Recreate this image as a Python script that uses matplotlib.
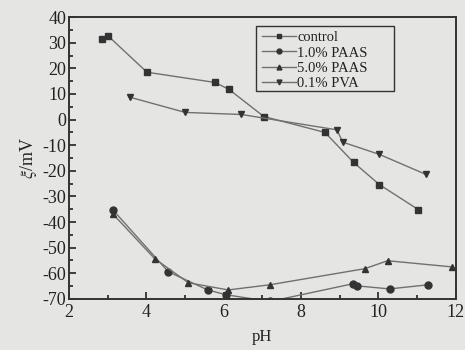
import numpy as np
import matplotlib
matplotlib.use('Agg')
import matplotlib.pyplot as plt
from matplotlib.patches import Rectangle
from matplotlib.ticker import MultipleLocator

plt.rcParams['font.family'] = ['Liberation Serif', 'DejaVu Serif']
plt.rcParams['mathtext.fontset'] = 'stix'
plt.rcParams['axes.unicode_minus'] = False

# data
ph_control = [2.87, 3.02, 4.02, 5.78, 6.14, 7.04, 8.62, 9.36, 10.03, 11.03]
zeta_control = [31.4, 32.6, 18.5, 14.5, 11.8, 1.2, -5.0, -16.7, -25.4, -35.1]

ph_paas1 = [3.13, 4.57, 5.59, 6.07, 7.2, 9.34, 9.44, 10.29, 11.28]
zeta_paas1 = [-35.1, -59.4, -66.5, -68.4, -71.0, -64.1, -64.9, -66.1, -64.5]

ph_paas5 = [3.13, 4.22, 5.09, 6.12, 7.19, 9.65, 10.24, 11.9]
zeta_paas5 = [-36.7, -54.3, -63.7, -66.5, -64.5, -58.2, -55.1, -57.5]

ph_pva = [3.59, 5.01, 6.46, 8.93, 9.08, 10.03, 11.23]
zeta_pva = [8.7, 2.8, 2.0, -4.0, -8.8, -13.6, -21.4]

bg = '#e5e5e3'
fig = plt.figure(figsize=(4.65, 3.5), dpi=100, facecolor=bg)
ax = fig.add_axes([0.148, 0.146, 0.832, 0.805], facecolor=bg)

lc = '#707070'
mc = '#333333'
kw = dict(color=lc, lw=1.0, markerfacecolor=mc, markeredgecolor=mc, markersize=5)
ax.plot(ph_control, zeta_control, marker='s', label='control', **kw)
ax.plot(ph_paas1, zeta_paas1, marker='o', label='1.0% PAAS', **kw)
ax.plot(ph_paas5, zeta_paas5, marker='^', label='5.0% PAAS', **kw)
ax.plot(ph_pva, zeta_pva, marker='v', label='0.1% PVA', **kw)

ax.set_xlim(2, 12)
ax.set_ylim(-70, 40)
ax.xaxis.set_major_locator(MultipleLocator(2))
ax.xaxis.set_minor_locator(MultipleLocator(1))
ax.yaxis.set_major_locator(MultipleLocator(10))
ax.yaxis.set_minor_locator(MultipleLocator(5))
ax.tick_params(which='both', direction='in', top=False, right=False,
               labelsize=13, colors='#222222', width=1.2)
ax.tick_params(axis='y', pad=2)
ax.tick_params(which='major', length=5)
ax.tick_params(which='minor', length=3)
for s in ax.spines.values():
    s.set_color('#333333')
    s.set_linewidth(1.4)

ax.set_xlabel('pH', fontsize=12, color='#222222', labelpad=6)
ax.set_ylabel(r'$\xi$/mV', fontsize=13, color='#222222', labelpad=2)

# legend box is wider than its contents in the original
ax.add_patch(Rectangle((0.483, 0.738), 0.358, 0.230, transform=ax.transAxes,
                       fill=False, edgecolor='#333333', lw=1.0, zorder=5))
leg = ax.legend(loc='upper left', bbox_to_anchor=(0.500, 0.951), fontsize=10.5,
                frameon=False, handlelength=2.3, handletextpad=0.1,
                borderpad=0, labelspacing=0.15, markerscale=0.7,
                borderaxespad=0)
for t in leg.get_texts():
    t.set_color('#222222')

fig.savefig('out.png', dpi=100, facecolor=bg)
